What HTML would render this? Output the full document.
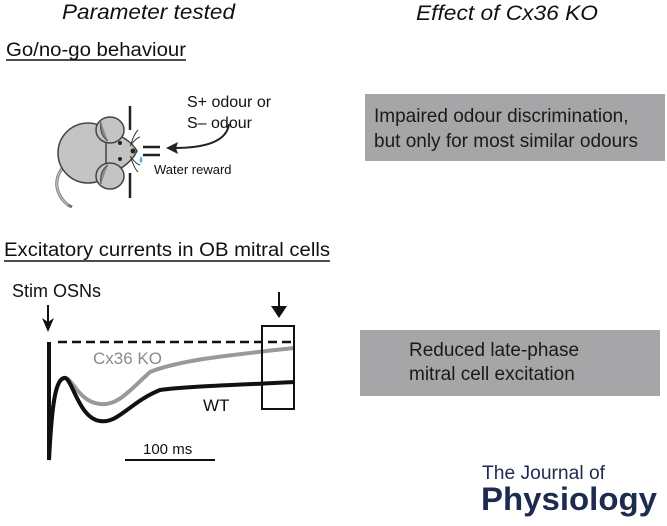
<!DOCTYPE html>
<html><head><meta charset="utf-8"><style>
html,body{margin:0;padding:0;background:#fff}
svg{display:block}
text{font-family:"Liberation Sans",Arial,sans-serif}
</style></head><body>
<svg width="667" height="526" viewBox="0 0 667 526" xmlns="http://www.w3.org/2000/svg">
<!-- headers -->
<text x="62" y="19" font-size="21" font-style="italic" fill="#111" textLength="173" lengthAdjust="spacingAndGlyphs">Parameter tested</text>
<text x="416" y="20" font-size="21" font-style="italic" fill="#111" textLength="182" lengthAdjust="spacingAndGlyphs">Effect of Cx36 KO</text>
<text x="6" y="56" font-size="19" fill="#111" textLength="180" lengthAdjust="spacingAndGlyphs">Go/no-go behaviour</text>
<line x1="6" y1="60" x2="186" y2="60" stroke="#111" stroke-width="1.5"/>
<text x="4" y="256" font-size="19" fill="#111" textLength="326" lengthAdjust="spacingAndGlyphs">Excitatory currents in OB mitral cells</text>
<line x1="4" y1="261" x2="330" y2="261" stroke="#111" stroke-width="1.5"/>

<!-- mouse -->
<path d="M64,166 C52,180 56,195 68,205 L72,207" fill="none" stroke="#777" stroke-width="3"/>
<path d="M64,166 C52,180 56,195 68,205" fill="none" stroke="#bbb" stroke-width="1.5"/>
<ellipse cx="88" cy="153" rx="30" ry="30" fill="#c4c4c4" stroke="#444" stroke-width="1.5"/>
<path d="M106,130 Q130,138 137,151 Q130,166 106,176 Z" fill="#c4c4c4" stroke="#444" stroke-width="1.5"/>
<ellipse cx="110" cy="130" rx="14" ry="13" fill="#c4c4c4" stroke="#444" stroke-width="1.5"/>
<path d="M101,122 Q99,135 108,141" fill="#8a8a8a" stroke="#444" stroke-width="1"/>
<ellipse cx="110" cy="176" rx="14" ry="13" fill="#c4c4c4" stroke="#444" stroke-width="1.5"/>
<path d="M101,184 Q99,171 108,165" fill="#8a8a8a" stroke="#444" stroke-width="1"/>
<circle cx="120" cy="143" r="2" fill="#222"/>
<circle cx="120" cy="159" r="2" fill="#222"/>
<circle cx="133" cy="151" r="2.5" fill="#222"/>
<path d="M130,146 Q136,138 140,137 M131,144 Q134,134 138,130 M130,156 Q136,164 140,165 M131,158 Q134,168 138,172" fill="none" stroke="#333" stroke-width="1"/>
<path d="M141,156 Q138,161 141,163 Q144,161 141,156Z" fill="#6ab0e0"/>
<line x1="130" y1="106" x2="130" y2="130" stroke="#222" stroke-width="2.5"/>
<line x1="130" y1="173" x2="130" y2="198" stroke="#222" stroke-width="2.5"/>
<line x1="143" y1="147" x2="160" y2="147" stroke="#222" stroke-width="2.5"/>
<line x1="143" y1="155" x2="160" y2="155" stroke="#222" stroke-width="2.5"/>
<path d="M229,124 Q226,148 174,148" fill="none" stroke="#222" stroke-width="2"/>
<path d="M166,148 L178,142 L176,148 L178,154 Z" fill="#222"/>
<text x="187" y="107" font-size="16" fill="#111">S+ odour or</text>
<text x="187" y="128" font-size="16" fill="#111">S– odour</text>
<text x="154" y="174" font-size="13" fill="#111">Water reward</text>

<!-- boxes -->
<rect x="365" y="94" width="300" height="67" fill="#a6a6a8"/>
<text x="374" y="122" font-size="19" fill="#1a1a1a">Impaired odour discrimination,</text>
<text x="374" y="147" font-size="19" fill="#1a1a1a">but only for most similar odours</text>
<rect x="360" y="330" width="300" height="66" fill="#a6a6a8"/>
<text x="409" y="356" font-size="19" fill="#1a1a1a">Reduced late-phase</text>
<text x="409" y="380" font-size="19" fill="#1a1a1a">mitral cell excitation</text>

<!-- traces -->
<text x="12" y="297" font-size="18" fill="#111">Stim OSNs</text>
<line x1="48" y1="305" x2="48" y2="322" stroke="#111" stroke-width="2"/>
<path d="M42,318 L48,332 L54,318 L48,322 Z" fill="#111"/>
<line x1="279" y1="292" x2="279" y2="310" stroke="#111" stroke-width="2"/>
<path d="M271,306 L279,318 L287,306 Z" fill="#111"/>
<line x1="58" y1="342" x2="295" y2="342" stroke="#111" stroke-width="2.5" stroke-dasharray="9,5"/>
<path d="M49,342 L49,460 C52,400 56,380 64,378 C72,376 78,402 100,404 C118,406 130,390 150,372 C180,360 230,355 294,348" fill="none" stroke="#999" stroke-width="4"/>
<path d="M49,342 L49,460 C52,400 56,380 64,378 C72,376 78,418 100,421 C118,424 130,402 160,390 C190,386 240,385 294,382" fill="none" stroke="#111" stroke-width="4"/>
<rect x="262" y="326" width="32" height="83" fill="none" stroke="#111" stroke-width="2"/>
<text x="93" y="364" font-size="17" fill="#8a8a8a">Cx36 KO</text>
<text x="203" y="411" font-size="17" fill="#111">WT</text>
<text x="143" y="454" font-size="15" fill="#111">100 ms</text>
<line x1="125" y1="460" x2="215" y2="460" stroke="#111" stroke-width="2"/>

<!-- logo -->
<text x="482" y="479" font-size="19" fill="#1d2b4f" textLength="123" lengthAdjust="spacingAndGlyphs">The Journal of</text>
<text x="481" y="510" font-size="32" font-weight="bold" fill="#1d2b4f" textLength="176" lengthAdjust="spacingAndGlyphs">Physiology</text>
</svg>
</body></html>
